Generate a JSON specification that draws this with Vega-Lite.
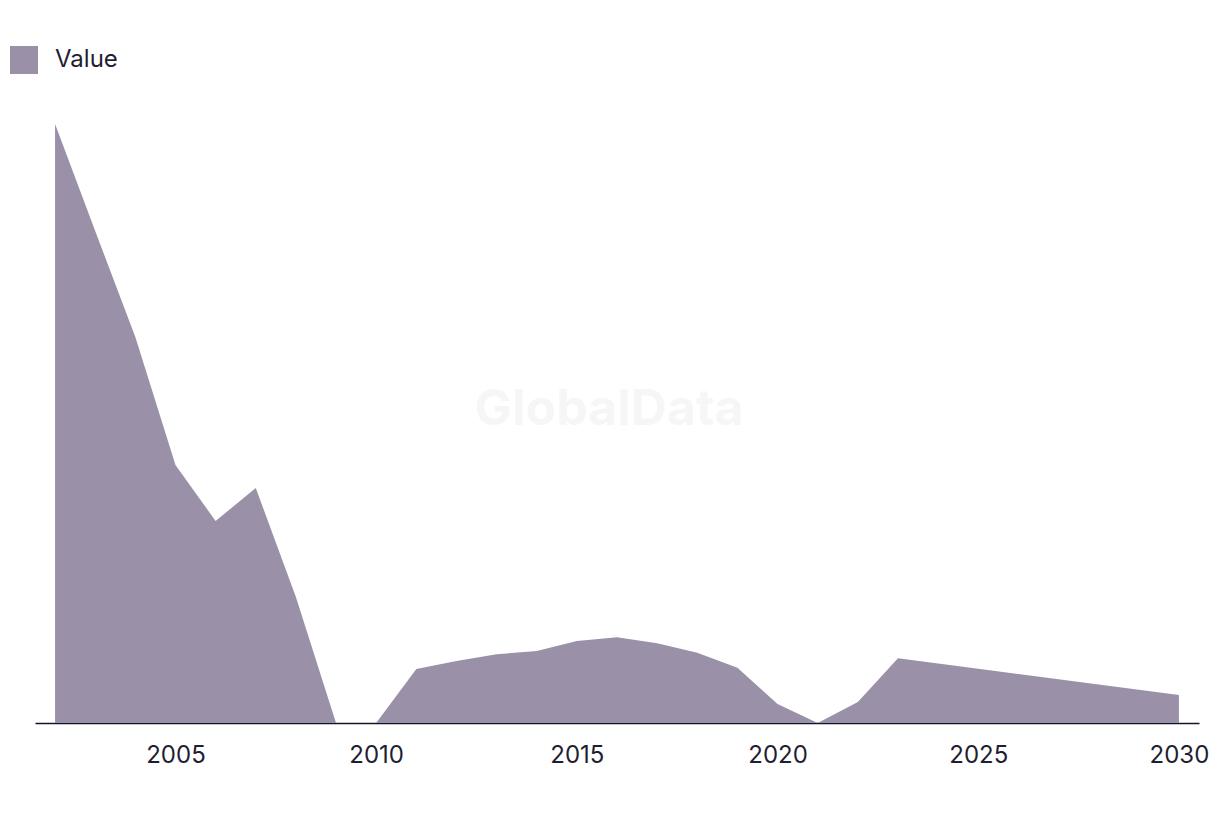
{
  "$schema": "https://vega.github.io/schema/vega-lite/v6.json",
  "width": 1164,
  "height": 623,
  "autosize": {"type": "none"},
  "padding": {"left": 35, "top": 100, "right": 21, "bottom": 93},
  "background": "white",
  "config": {
    "view": {"stroke": null},
    "font": "Inter"
  },
  "data": {"values": [
    {"year": 2002, "value": 599, "series": "Value"},
    {"year": 2003, "value": 492, "series": "Value"},
    {"year": 2004, "value": 386, "series": "Value"},
    {"year": 2005, "value": 258, "series": "Value"},
    {"year": 2006, "value": 202, "series": "Value"},
    {"year": 2007, "value": 235, "series": "Value"},
    {"year": 2008, "value": 126, "series": "Value"},
    {"year": 2009, "value": 0, "series": "Value"},
    {"year": 2010, "value": 0, "series": "Value"},
    {"year": 2011, "value": 54, "series": "Value"},
    {"year": 2012, "value": 62, "series": "Value"},
    {"year": 2013, "value": 68.7, "series": "Value"},
    {"year": 2014, "value": 72, "series": "Value"},
    {"year": 2015, "value": 82, "series": "Value"},
    {"year": 2016, "value": 85.7, "series": "Value"},
    {"year": 2017, "value": 79.7, "series": "Value"},
    {"year": 2018, "value": 70.3, "series": "Value"},
    {"year": 2019, "value": 55.3, "series": "Value"},
    {"year": 2020, "value": 19, "series": "Value"},
    {"year": 2021, "value": 0, "series": "Value"},
    {"year": 2022, "value": 21, "series": "Value"},
    {"year": 2023, "value": 64.7, "series": "Value"},
    {"year": 2024, "value": 59.5, "series": "Value"},
    {"year": 2025, "value": 54.2, "series": "Value"},
    {"year": 2026, "value": 49, "series": "Value"},
    {"year": 2027, "value": 43.7, "series": "Value"},
    {"year": 2028, "value": 38.5, "series": "Value"},
    {"year": 2029, "value": 33.2, "series": "Value"},
    {"year": 2030, "value": 28, "series": "Value"}
  ]},
  "layer": [
    {
      "mark": {"type": "area", "opacity": 1},
      "encoding": {
        "x": {
          "field": "year", "type": "quantitative",
          "scale": {"domain": [2001.5, 2030.5], "nice": false, "zero": false},
          "axis": {
            "title": null, "values": [2005, 2010, 2015, 2020, 2025, 2030], "format": "d",
            "grid": false, "ticks": false, "domainColor": "#14142b", "domainWidth": 1.5,
            "labelFontSize": 24, "labelColor": "#1f1f33", "labelPadding": 20, "labelFont": "Inter",
            "labelFlush": false
          }
        },
        "y": {
          "field": "value", "type": "quantitative",
          "scale": {"domain": [0, 623], "nice": false},
          "axis": null
        },
        "color": {
          "field": "series", "type": "nominal",
          "scale": {"range": ["#9a91a9"]},
          "legend": {
            "title": null, "orient": "none", "legendX": -25, "legendY": -54,
            "symbolType": "square", "symbolSize": 784, "symbolStrokeWidth": 0, "symbolOpacity": 1,
            "labelFontSize": 24, "labelColor": "#1f1f33", "labelFont": "Inter", "labelOffset": 17
          }
        }
      }
    },
    {
      "data": {"values": [{"label": "GlobalData"}]},
      "mark": {"type": "text", "font": "Inter", "fontWeight": "bold", "fontSize": 50, "fill": "#f6f6f6", "align": "center", "baseline": "middle"},
      "encoding": {
        "x": {"datum": 2015.8, "type": "quantitative"},
        "y": {"datum": 313, "type": "quantitative"},
        "text": {"field": "label", "type": "nominal"}
      }
    }
  ]
}
